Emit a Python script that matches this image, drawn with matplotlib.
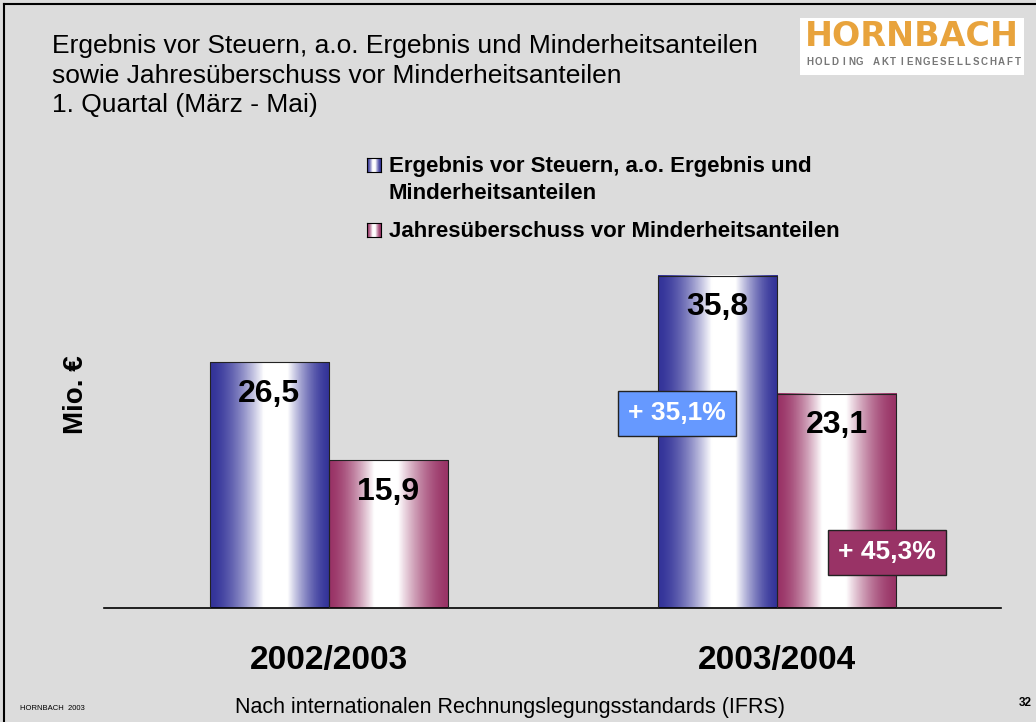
import numpy as np
import matplotlib
matplotlib.use("Agg")
import matplotlib.pyplot as plt
from matplotlib.colors import to_rgb
from matplotlib.patches import Rectangle

plt.rcParams['font.family'] = ['Liberation Sans', 'DejaVu Sans']

# data
years = ["2002/2003", "2003/2004"]
series_names = ["Ergebnis vor Steuern, a.o. Ergebnis und\nMinderheitsanteilen",
                "Jahresüberschuss vor Minderheitsanteilen"]
ebt = [26.5, 35.8]
net = [15.9, 23.1]
value_labels_ebt = ["26,5", "35,8"]
value_labels_net = ["15,9", "23,1"]
growth_labels = ["+ 35,1%", "+ 45,3%"]

BG = "#DCDCDC"
BLUE = "#333399"
MAROON = "#993366"


def gradient(dark, peak, n=200):
    # horizontal cylinder-like shading: dark edges, white highlight at peak
    t = np.linspace(0, 1, n)
    w = np.where(t < peak, t / peak, (1 - t) / (1 - peak))
    w = np.clip(w * 1.25, 0, 1) ** 1.6
    d = np.array(to_rgb(dark))
    rgb = d[None, :] * (1 - w[:, None]) + w[:, None]
    return rgb[None, :, :]


fig = plt.figure(figsize=(10.36, 7.22), dpi=100, facecolor=BG)
W, H = 1036, 722

# axes placed by pixel layout
ax_l, ax_r, ax_b, ax_t = 104, 1001, 608, 140
ax = fig.add_axes([ax_l / W, 1 - ax_b / H, (ax_r - ax_l) / W, (ax_b - ax_t) / H])
ax.set_facecolor(BG)

x = np.arange(len(years))
bw = 0.2656
bars1 = ax.bar(x - bw / 2, ebt, bw, color='none', edgecolor='#222222', lw=0.8, zorder=3)
bars2 = ax.bar(x + bw / 2, net, bw, color='none', edgecolor='#222222', lw=0.8, zorder=3)

for bars, col, peak in [(bars1, BLUE, 0.56), (bars2, MAROON, 0.47)]:
    g = gradient(col, peak)
    for b in bars:
        x0, y0, w, h = b.get_x(), b.get_y(), b.get_width(), b.get_height()
        ax.imshow(g, extent=[x0, x0 + w, y0, y0 + h], aspect='auto', zorder=2,
                  interpolation='bilinear')

for b, lab in zip(bars1, value_labels_ebt):
    ax.text(b.get_x() + b.get_width() / 2, b.get_height() - 3.4, lab, ha='center',
            va='center', fontsize=23, fontweight='bold', zorder=4)
for b, lab in zip(bars2, value_labels_net):
    ax.text(b.get_x() + b.get_width() / 2, b.get_height() - 3.4, lab, ha='center',
            va='center', fontsize=23, fontweight='bold', zorder=4)

ax.set_xlim(-0.502, 1.5)
ax.set_ylim(0, (ax_b - ax_t) / 9.28)
for s in ['top', 'right', 'left']:
    ax.spines[s].set_visible(False)
ax.spines['bottom'].set_linewidth(1.2)
ax.set_yticks([])
ax.set_xticks([])

# growth callouts
ax.text(0.777, 21.0, growth_labels[0], ha='center', va='center', fontsize=19,
        fontweight='bold', color='white', zorder=5,
        bbox=dict(boxstyle='square,pad=0.4', fc='#6699FF', ec='#222222', lw=1))
ax.text(1.2455, 6.0, growth_labels[1], ha='center', va='center', fontsize=19,
        fontweight='bold', color='white', zorder=5,
        bbox=dict(boxstyle='square,pad=0.4', fc=MAROON, ec='#222222', lw=1))

# year labels
for xi, yr in zip(x, years):
    fig.text((ax_l + (xi + 0.502) * 448) / W, 1 - 660 / H, yr, ha='center', va='center',
             fontsize=24, fontweight='bold')

fig.text(76 / W, 1 - 395 / H, "Mio. €", rotation=90, ha='center', va='center',
         fontsize=20, fontweight='bold')

# title
fig.text(52 / W, 1 - 34 / H, "Ergebnis vor Steuern, a.o. Ergebnis und Minderheitsanteilen\n"
         "sowie Jahresüberschuss vor Minderheitsanteilen\n1. Quartal (März - Mai)",
         ha='left', va='top', fontsize=19, linespacing=1.3)

# legend
for (yy, col, peak, name) in [(165, BLUE, 0.5, series_names[0]),
                              (230, MAROON, 0.5, series_names[1])]:
    lax = fig.add_axes([367 / W, 1 - (yy + 7) / H, 14 / W, 14 / H])
    lax.imshow(gradient(col, peak), aspect='auto', extent=[0, 1, 0, 1])
    lax.set_xticks([])
    lax.set_yticks([])
    for s in lax.spines.values():
        s.set_linewidth(0.8)
    fig.text(389 / W, 1 - (yy - 9) / H, name, ha='left', va='top', fontsize=16,
             fontweight='bold', linespacing=1.35)

# logo
fig.patches.append(Rectangle((800 / W, 1 - 75 / H), 224 / W, 57 / H, transform=fig.transFigure,
                             fc='white', ec='none'))
fig.text(912 / W, 1 - 36 / H, "HORNBACH", ha='center', va='center', fontsize=24,
         fontweight='bold', color='#E8A33C', family='DejaVu Sans')
sub = "HOLDING AKTIENGESELLSCHAFT"
for i, ch in enumerate(sub):
    fig.text((806 + i * 8.3 + 4) / W, 1 - 62 / H, ch, ha='center', va='center',
             fontsize=7, color='#777777', fontweight='bold')

# frame lines (left / top)
fig.add_artist(plt.Line2D([4 / W, 4 / W], [0, 1 - 4 / H], color='black', lw=1.5,
                          transform=fig.transFigure))
fig.add_artist(plt.Line2D([4 / W, 1], [1 - 4 / H, 1 - 4 / H], color='black', lw=1.5,
                          transform=fig.transFigure))

# footer
fig.text(20 / W, 1 - 708 / H, "HORNBACH  2003", ha='left', va='center', fontsize=5.5)
fig.text(510 / W, 1 - 707 / H, "Nach internationalen Rechnungslegungsstandards (IFRS)",
         ha='center', va='center', fontsize=15.5)
fig.text(1025 / W, 1 - 703 / H, "32", ha='center', va='center', fontsize=8.5, fontweight='bold')

fig.savefig("out.png", dpi=100, facecolor=BG)
